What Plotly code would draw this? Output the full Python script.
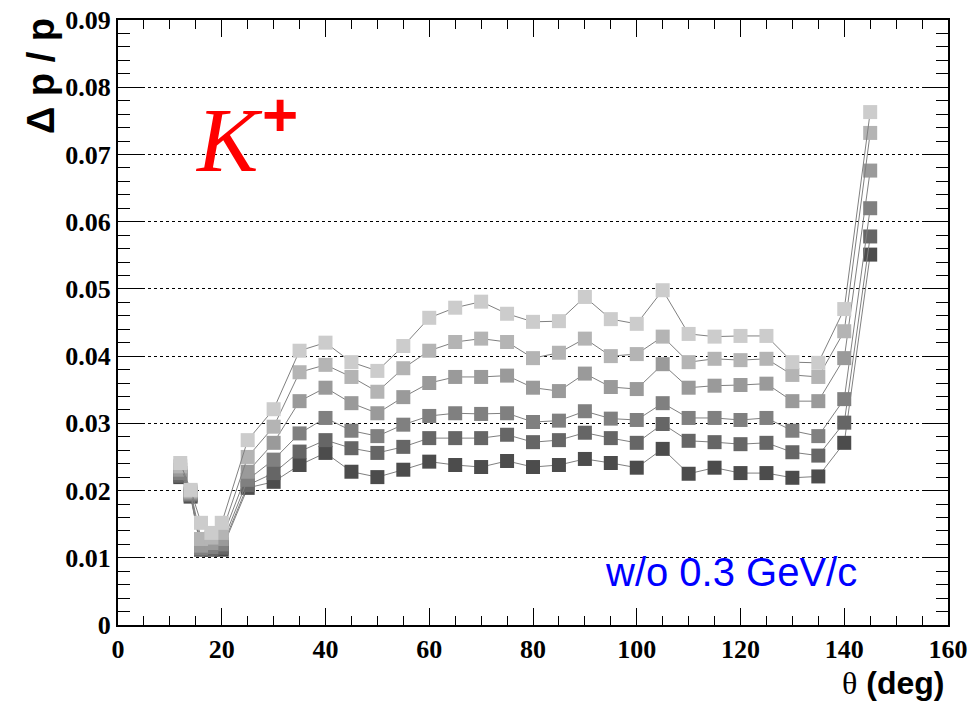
import plotly.graph_objects as go

theta = [12, 14, 16, 18, 20, 25, 30, 35, 40, 45, 50, 55, 60, 65, 70, 75, 80, 85, 90,
         95, 100, 105, 110, 115, 120, 125, 130, 135, 140, 145]

s1 = [0.0241, 0.0201, 0.0152, 0.0137, 0.0152, 0.0275, 0.0321, 0.0408, 0.0420, 0.0391,
      0.0378, 0.0415, 0.0457, 0.0472, 0.0481, 0.0463, 0.0451, 0.0452, 0.0488, 0.0455,
      0.0448, 0.0498, 0.0433, 0.0429, 0.0430, 0.0430, 0.0391, 0.0390, 0.0470, 0.0763]
s2 = [0.0236, 0.0199, 0.0128, 0.0130, 0.0137, 0.0250, 0.0295, 0.0376, 0.0387, 0.0369,
      0.0347, 0.0382, 0.0408, 0.0421, 0.0426, 0.0421, 0.0397, 0.0405, 0.0426, 0.0400,
      0.0403, 0.0429, 0.0391, 0.0396, 0.0394, 0.0396, 0.0372, 0.0369, 0.0437, 0.0732]
s3 = [0.0231, 0.0197, 0.0118, 0.0122, 0.0128, 0.0228, 0.0271, 0.0333, 0.0353, 0.0330,
      0.0315, 0.0339, 0.0360, 0.0369, 0.0369, 0.0371, 0.0353, 0.0348, 0.0374, 0.0354,
      0.0351, 0.0388, 0.0353, 0.0356, 0.0357, 0.0359, 0.0333, 0.0333, 0.0397, 0.0676]
s4 = [0.0226, 0.0195, 0.0114, 0.0116, 0.0120, 0.0216, 0.0246, 0.0285, 0.0308, 0.0289,
      0.0281, 0.0298, 0.0311, 0.0315, 0.0314, 0.0315, 0.0302, 0.0304, 0.0318, 0.0307,
      0.0305, 0.0330, 0.0308, 0.0308, 0.0305, 0.0308, 0.0289, 0.0281, 0.0336, 0.0620]
s5 = [0.0222, 0.0193, 0.0113, 0.0113, 0.0115, 0.0208, 0.0226, 0.0258, 0.0275, 0.0263,
      0.0256, 0.0265, 0.0278, 0.0278, 0.0278, 0.0283, 0.0272, 0.0275, 0.0286, 0.0278,
      0.0271, 0.0299, 0.0274, 0.0272, 0.0269, 0.0271, 0.0257, 0.0252, 0.0301, 0.0578]
s6 = [0.0220, 0.0191, 0.0112, 0.0112, 0.0112, 0.0204, 0.0213, 0.0238, 0.0256, 0.0228,
      0.0220, 0.0231, 0.0243, 0.0238, 0.0235, 0.0244, 0.0235, 0.0238, 0.0247, 0.0241,
      0.0234, 0.0262, 0.0225, 0.0234, 0.0226, 0.0226, 0.0219, 0.0221, 0.0271, 0.0551]

series = [s6, s5, s4, s3, s2, s1]
colors = ["#4c4c4c", "#666666", "#808080", "#9a9a9a", "#b4b4b4", "#cccccc"]

fig = go.Figure()
for ys, c in zip(series, colors):
    fig.add_trace(go.Scatter(
        x=theta, y=ys, mode="lines+markers",
        line=dict(color="#808080", width=1),
        marker=dict(symbol="square", size=14, color=c, line=dict(width=0)),
        showlegend=False))

tickfont = dict(family="Liberation Serif", size=26, color="black", weight="bold")
fig.update_layout(
    width=970, height=701,
    margin=dict(l=118, r=22, t=20, b=76),
    paper_bgcolor="white", plot_bgcolor="white",
    xaxis=dict(range=[0, 160], dtick=20, tick0=0, ticks="inside", ticklen=17,
               tickwidth=1, tickcolor="black", showline=True, linewidth=2,
               linecolor="black", mirror="ticks", showgrid=False, zeroline=False,
               tickfont=tickfont, automargin=False, ticklabelstandoff=0,
               minor=dict(ticks="inside", dtick=5, ticklen=9, tickcolor="black",
                          tickwidth=1, showgrid=False)),
    yaxis=dict(range=[0, 0.09], dtick=0.01, tick0=0, ticks="inside", ticklen=24,
               tickwidth=1, tickcolor="black", showline=True, linewidth=2,
               linecolor="black", mirror="ticks", showgrid=True, gridcolor="black",
               griddash="dot", gridwidth=1, zeroline=False, tickfont=tickfont,
               automargin=False,
               minor=dict(ticks="inside", dtick=0.002, ticklen=12, tickcolor="black",
                          tickwidth=1, showgrid=False)),
)

fig.add_annotation(xref="paper", yref="paper", x=-0.092, y=1.006, xanchor="center",
                   yanchor="top", textangle=-90, showarrow=False,
                   text="<b>Δ p / p</b>",
                   font=dict(family="Liberation Sans", size=38, color="black"))
fig.add_annotation(xref="paper", yref="paper", x=0.9975, y=-0.096, xanchor="right",
                   yanchor="middle", showarrow=False,
                   text="<span style='font-family:Liberation Serif;font-weight:normal'>θ</span> <b>(deg)</b>",
                   font=dict(family="Liberation Sans", size=32, color="black"))
fig.add_annotation(xref="paper", yref="paper", x=0.134, y=0.801, xanchor="center",
                   yanchor="middle", showarrow=False, text="<i>K</i>",
                   font=dict(family="Liberation Serif", size=92, color="red"))
fig.add_annotation(xref="paper", yref="paper", x=0.195, y=0.843, xanchor="center",
                   yanchor="middle", showarrow=False, text="<b>+</b>",
                   font=dict(family="Liberation Sans", size=62, color="red"))
fig.add_annotation(xref="paper", yref="paper", x=0.739, y=0.0876, xanchor="center",
                   yanchor="middle", showarrow=False, text="w/o 0.3 GeV/c",
                   font=dict(family="Liberation Sans", size=40, color="blue"))

fig.write_html("out.html")
